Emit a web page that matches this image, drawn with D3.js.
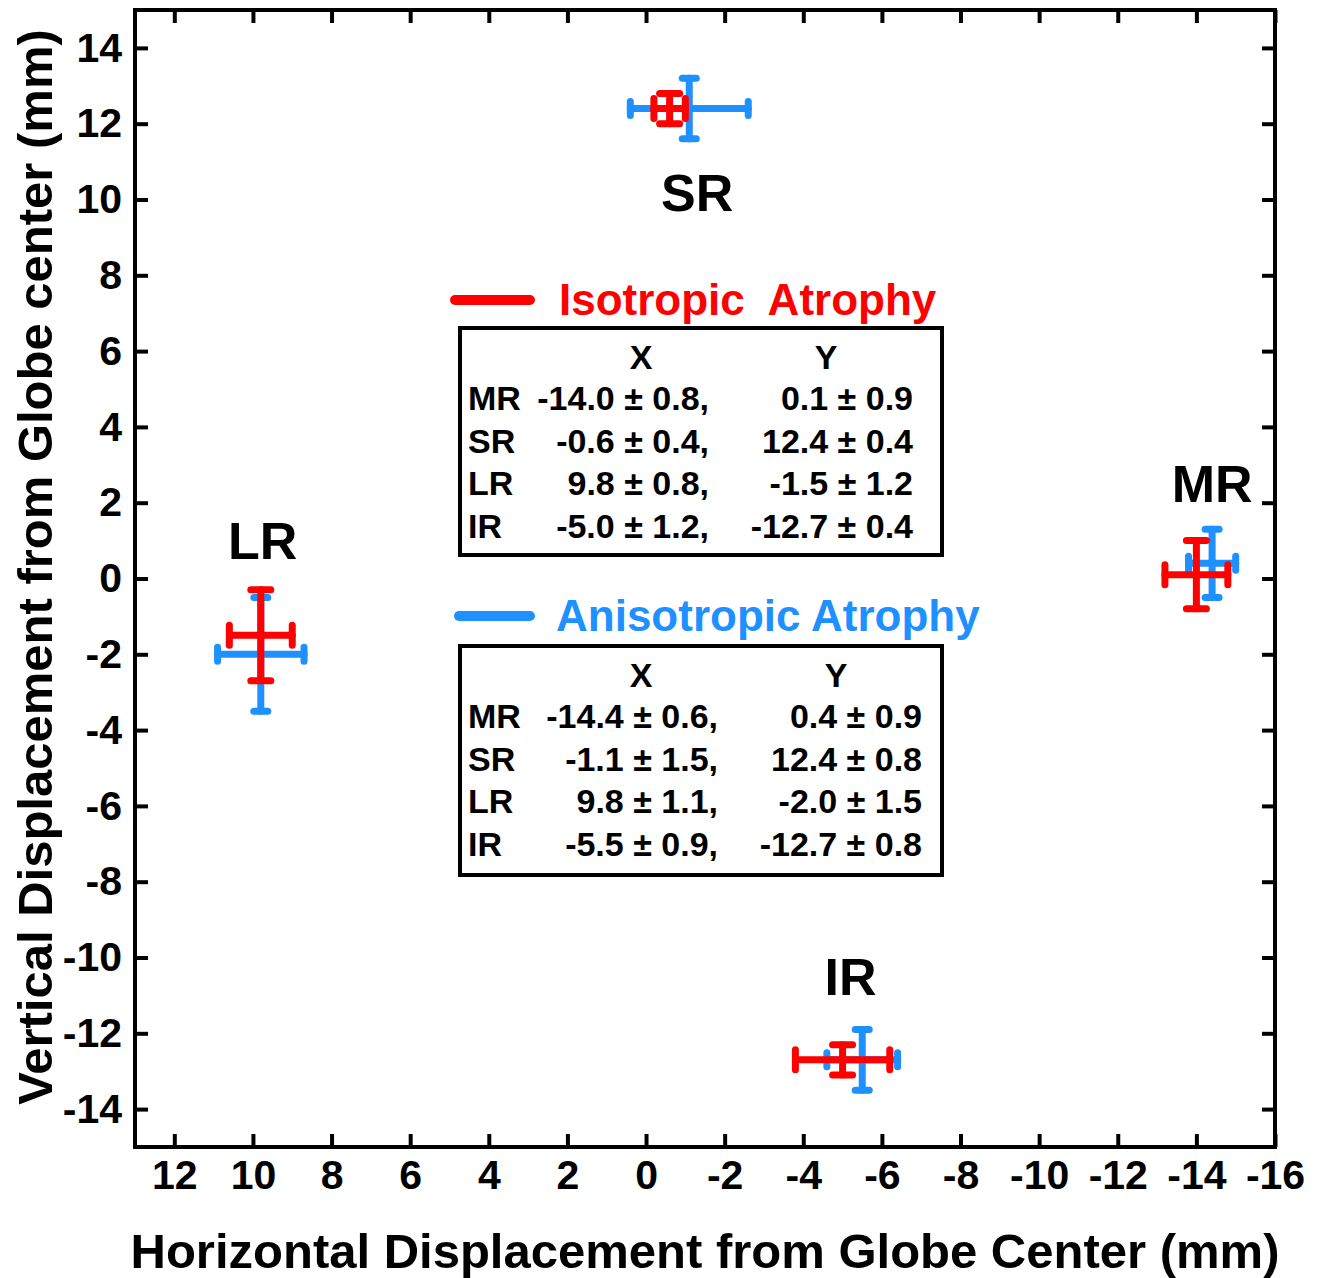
<!DOCTYPE html>
<html>
<head>
<meta charset="utf-8">
<script src="https://cdn.jsdelivr.net/npm/d3@7"></script>
<style>
  body { margin: 0; background: #fff; }
  text { font-family: "Liberation Sans", Arial, sans-serif; font-weight: bold; }
</style>
</head>
<body>
<svg id="chart"></svg>
<script>
// muscles and mean positions (mm), from the tables in the figure
var muscles = ['MR', 'SR', 'LR', 'IR'];

// Isotropic atrophy
var isoX    = [-14.0, -0.6, 9.8, -5.0];
var isoXErr = [0.8, 0.4, 0.8, 1.2];
var isoY    = [0.1, 12.4, -1.5, -12.7];
var isoYErr = [0.9, 0.4, 1.2, 0.4];

// Anisotropic atrophy
var anisoX    = [-14.4, -1.1, 9.8, -5.5];
var anisoXErr = [0.6, 1.5, 1.1, 0.9];
var anisoY    = [0.4, 12.4, -2.0, -12.7];
var anisoYErr = [0.9, 0.8, 1.5, 0.8];

// where the muscle names sit (data units)
var labelX = [-14.4, -1.3, 9.75, -5.2];
var labelY = [2.5, 10.2, 1.0, -10.5];

var xTicks = [12, 10, 8, 6, 4, 2, 0, -2, -4, -6, -8, -10, -12, -14, -16];
var yTicks = [-14, -12, -10, -8, -6, -4, -2, 0, 2, 4, 6, 8, 10, 12, 14];

var RED = '#ff0000', BLUE = '#1e90ff';

var W = 1326, H = 1278;
var mLeft = 135, mRight = 1275, mTop = 10, mBottom = 1147;

var svg = d3.select('#chart').attr('width', W).attr('height', H);

var x = d3.scaleLinear().domain([13, -16]).range([mLeft, mRight]);
var y = d3.scaleLinear().domain([-15, 15]).range([mBottom, mTop]);

// plain hyphen for negatives, like the figure
var fmt = function (d) { return String(d); };

// axes, ticks point inward on all four sides
function styleAxis(g) {
  g.select('.domain').remove();
  g.selectAll('.tick line').attr('stroke', '#000').attr('stroke-width', 4);
  g.selectAll('.tick text').attr('fill', '#000').style('font-size', '41px');
}

svg.append('g').attr('transform', 'translate(0,' + mBottom + ')')
  .call(d3.axisBottom(x).tickValues(xTicks).tickFormat(fmt).tickSize(-13).tickPadding(13))
  .call(styleAxis);
svg.append('g').attr('transform', 'translate(0,' + mTop + ')')
  .call(d3.axisTop(x).tickValues(xTicks).tickSize(-13).tickFormat(''))
  .call(styleAxis);
svg.append('g').attr('transform', 'translate(' + mLeft + ',0)')
  .call(d3.axisLeft(y).tickValues(yTicks).tickFormat(fmt).tickSize(-13).tickPadding(13))
  .call(styleAxis);
svg.append('g').attr('transform', 'translate(' + mRight + ',0)')
  .call(d3.axisRight(y).tickValues(yTicks).tickSize(-13).tickFormat(''))
  .call(styleAxis);

svg.append('rect')
  .attr('x', mLeft).attr('y', mTop)
  .attr('width', mRight - mLeft).attr('height', mBottom - mTop)
  .attr('fill', 'none').attr('stroke', '#000').attr('stroke-width', 4);

// axis titles
svg.append('text')
  .attr('x', 705).attr('y', 1268)
  .attr('text-anchor', 'middle')
  .style('font-size', '49px')
  .text('Horizontal Displacement from Globe Center (mm)');

svg.append('text')
  .attr('transform', 'translate(52,567) rotate(-90)')
  .attr('text-anchor', 'middle')
  .style('font-size', '49px')
  .text('Vertical Displacement from Globe center (mm)');

// error bar crosses
function drawCrosses(xs, xe, ys, ye, color, cap) {
  var g = svg.append('g')
    .attr('stroke', color).attr('stroke-width', 7)
    .attr('stroke-linecap', 'round').attr('fill', 'none');
  muscles.forEach(function (m, i) {
    var cx = x(xs[i]), cy = y(ys[i]);
    var x0 = x(xs[i] + xe[i]), x1 = x(xs[i] - xe[i]);
    var y0 = y(ys[i] + ye[i]), y1 = y(ys[i] - ye[i]);
    g.append('line').attr('x1', x0).attr('x2', x1).attr('y1', cy).attr('y2', cy);
    g.append('line').attr('x1', cx).attr('x2', cx).attr('y1', y0).attr('y2', y1);
    g.append('line').attr('x1', x0).attr('x2', x0).attr('y1', cy - cap).attr('y2', cy + cap);
    g.append('line').attr('x1', x1).attr('x2', x1).attr('y1', cy - cap).attr('y2', cy + cap);
    g.append('line').attr('x1', cx - cap).attr('x2', cx + cap).attr('y1', y0).attr('y2', y0);
    g.append('line').attr('x1', cx - cap).attr('x2', cx + cap).attr('y1', y1).attr('y2', y1);
  });
}

drawCrosses(anisoX, anisoXErr, anisoY, anisoYErr, BLUE, 7);
drawCrosses(isoX, isoXErr, isoY, isoYErr, RED, 10);

// muscle names
svg.selectAll('.mlabel').data(muscles).enter()
  .append('text')
  .attr('class', 'mlabel')
  .attr('x', function (d, i) { return x(labelX[i]); })
  .attr('y', function (d, i) { return y(labelY[i]); })
  .attr('dy', '0.36em')
  .attr('text-anchor', 'middle')
  .style('font-size', '52px')
  .text(function (d) { return d; });

// legend + tables
function pm(v, e) { return v.toFixed(1) + ' \u00b1 ' + e.toFixed(1); }

function drawTable(opt) {
  svg.append('line')
    .attr('x1', opt.lineX0).attr('x2', 530)
    .attr('y1', opt.legendY).attr('y2', opt.legendY)
    .attr('stroke', opt.color).attr('stroke-width', 10)
    .attr('stroke-linecap', 'round');
  svg.append('text')
    .attr('x', opt.textX).attr('y', opt.legendY + 15)
    .attr('fill', opt.color)
    .style('font-size', '44px')
    .style('white-space', 'pre')
    .text(opt.title);

  svg.append('rect')
    .attr('x', 460).attr('y', opt.boxY)
    .attr('width', 482).attr('height', opt.boxH)
    .attr('fill', 'none').attr('stroke', '#000').attr('stroke-width', 4);

  var t = svg.append('g').style('font-size', '34px');
  t.append('text').attr('x', 641).attr('y', opt.boxY + 41)
    .attr('text-anchor', 'middle').text('X');
  t.append('text').attr('x', opt.yHead).attr('y', opt.boxY + 41)
    .attr('text-anchor', 'middle').text('Y');

  muscles.forEach(function (m, i) {
    var by = opt.boxY + 82 + i * 42.7;
    t.append('text').attr('x', 468).attr('y', by).text(m);
    t.append('text').attr('x', opt.xEnd).attr('y', by)
      .attr('text-anchor', 'end')
      .text(pm(opt.xs[i], opt.xe[i]) + ',');
    t.append('text').attr('x', opt.yEnd).attr('y', by)
      .attr('text-anchor', 'end')
      .text(pm(opt.ys[i], opt.ye[i]));
  });
}

drawTable({
  color: RED, title: 'Isotropic  Atrophy', legendY: 300, lineX0: 455, textX: 559,
  boxY: 328, boxH: 227, yHead: 826, xEnd: 709, yEnd: 913,
  xs: isoX, xe: isoXErr, ys: isoY, ye: isoYErr
});
drawTable({
  color: BLUE, title: 'Anisotropic Atrophy', legendY: 616, lineX0: 459, textX: 556,
  boxY: 646, boxH: 229, yHead: 836, xEnd: 718, yEnd: 922,
  xs: anisoX, xe: anisoXErr, ys: anisoY, ye: anisoYErr
});
</script>
</body>
</html>
